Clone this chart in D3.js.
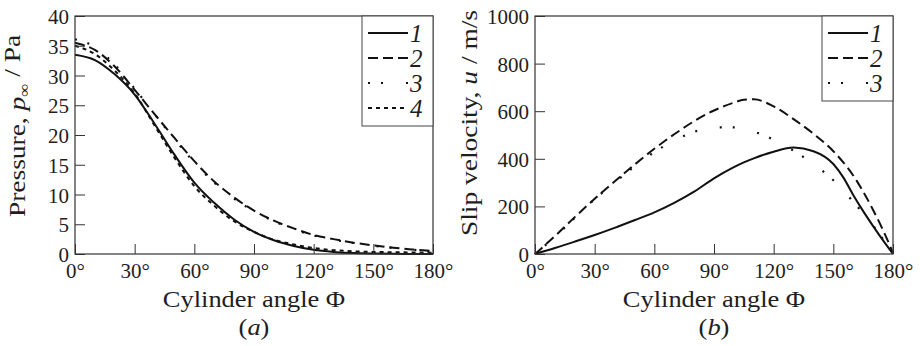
<!DOCTYPE html>
<html><head><meta charset="utf-8">
<script src="https://cdn.jsdelivr.net/npm/d3@7"></script>
<style>
html,body{margin:0;padding:0;background:#fff;}
svg{display:block;}
svg text{fill:#1e1e1e;}
</style></head>
<body>
<svg id="chart" width="920" height="346"></svg>
<script>
// ---------- data ----------
const angleTicks = [0, 30, 60, 90, 120, 150, 180];
const pressureTicks = [0, 5, 10, 15, 20, 25, 30, 35, 40];
const velocityTicks = [0, 200, 400, 600, 800, 1000];

const pAngles = [0,10,20,30,40,50,60,70,80,90,100,110,120,130,140,150,160,170,180];
const pressure1 = [33.5,32.6,30.2,26.8,21.9,16.7,12.0,8.6,5.8,3.7,2.3,1.35,0.7,0.35,0.15,0.07,0.03,0.01,0];
const pressure2 = [35.5,34.3,31.5,27.6,23.5,19.5,15.6,12.2,9.5,7.3,5.6,4.3,3.2,2.5,1.9,1.45,1.05,0.75,0.5];
const pressure3 = [36.1,34.8,31.8,27.8,23.5,19.3,15.4,12.0,9.3,7.2,5.5,4.2,3.1,2.4,1.85,1.4,1.0,0.7,0.45];
const pressure4 = [35.0,33.6,30.8,27.0,21.6,16.2,11.4,8.1,5.5,3.7,2.4,1.6,1.0,0.65,0.45,0.35,0.3,0.25,0.2];

const vAngles = [0,10,20,30,40,50,60,70,80,90,100,105,110,120,130,140,150,155,160,165,170,175,180];
const velocity1 = [0,25,52,80,110,142,175,215,262,318,365,385,402,430,447,432,378,322,248,180,117,57,0];
const velocity2 = [0,75,155,232,305,375,442,503,558,603,636,648,650,620,567,505,432,385,330,262,185,100,5];
const velocity3 = [0,72,152,230,300,368,428,477,513,532,532,524,514,480,434,378,310,265,220,170,120,62,0];

const pressureLabels = ["1","2","3","4"];
const velocityLabels = ["1","2","3"];

// ---------- styles ----------
const dashes = [null, "10 5", "2 11 2 23", "4 4"];
const FONT = "'Liberation Serif', 'DejaVu Serif', serif";

const svg = d3.select("#chart");

function panel(opt){
  const {x0,x1,y0,y1,yDomain,yTicks,series,angles,labels,titleX,titleY,letter,titleParts} = opt;
  const x = d3.scaleLinear().domain([0,180]).range([x0,x1]);
  const y = d3.scaleLinear().domain(yDomain).range([y1,y0]);
  const g = svg.append("g");

  // curves
  const line = d3.line().x((d,i)=>x(angles[i])).y(d=>y(d)).curve(d3.curveMonotoneX);
  series.forEach((s,k)=>{
    g.append("path").attr("d", line(s)).attr("fill","none")
      .attr("stroke","#111").attr("stroke-width", k===2?2.2:2)
      .attr("stroke-dasharray", dashes[k]);
  });

  // axes
  const ax = g.append("g").attr("transform",`translate(0,${y1})`)
    .call(d3.axisBottom(x).tickValues(angleTicks).tickSizeInner(-10).tickSizeOuter(0).tickFormat(d=>d+"°"));
  const ay = g.append("g").attr("transform",`translate(${x0},0)`)
    .call(d3.axisLeft(y).tickValues(yTicks).tickSizeInner(-10).tickSizeOuter(0).tickFormat(d3.format("d")));
  [ax,ay].forEach(a=>{
    a.attr("font-family", FONT);
    a.select(".domain").remove();
    a.selectAll("line").attr("stroke","#333").attr("stroke-width",1);
    a.selectAll("text").style("font-size","21px").style("font-family",FONT).attr("fill","#1a1a1a");
  });
  ax.selectAll("text").attr("y",9).attr("dy","0.71em");
  ay.selectAll("text").attr("x",-6).attr("dy","0.36em");

  // frame
  g.append("rect").attr("x",x0).attr("y",y0).attr("width",x1-x0).attr("height",y1-y0)
    .attr("fill","none").attr("stroke","#333").attr("stroke-width",1.2);

  // legend
  const lw = 71, lh = 25*labels.length+10;
  const lg = g.append("g").attr("transform",`translate(${x1-lw},${y0})`);
  lg.append("rect").attr("width",lw).attr("height",lh).attr("fill","#fff").attr("stroke","#444").attr("stroke-width",1);
  labels.forEach((lab,k)=>{
    const yy = 17 + 25*k;
    lg.append("line").attr("x1",6).attr("x2",46).attr("y1",yy).attr("y2",yy)
      .attr("stroke","#111").attr("stroke-width",k===2?2.2:2).attr("stroke-dasharray",dashes[k]);
    lg.append("text").attr("x",48).attr("y",yy+9)
      .style("font-family",FONT).style("font-size","25px").style("font-style","italic").text(lab);
  });

  // x title
  g.append("text").attr("transform",`translate(${(x0+x1)/2},307) scale(1.15,1)`)
    .attr("text-anchor","middle").style("font-family",FONT).style("font-size","23px").text("Cylinder angle Φ");
  // panel letter
  const lt = g.append("text").attr("transform",`translate(${(x0+x1)/2},335) scale(1.15,1)`)
    .attr("text-anchor","middle").style("font-family",FONT).style("font-size","23px");
  lt.append("tspan").text("(");
  lt.append("tspan").style("font-style","italic").text(letter);
  lt.append("tspan").text(")");

  // y title
  const yt = g.append("text").attr("transform",`translate(${titleX},${titleY}) rotate(-90) scale(1.22,1)`)
    .attr("text-anchor","middle").style("font-family",FONT).style("font-size","22.5px");
  titleParts.forEach(p=>{
    const t = yt.append("tspan").text(p.t);
    if(p.i) t.style("font-style","italic");
    if(p.sub) t.attr("dy","0.25em").style("font-size","15px");
    if(p.after) t.attr("dy","-0.37em");
  });
}

panel({x0:75,x1:433,y0:16,y1:254,yDomain:[0,40],yTicks:pressureTicks,
  series:[pressure1,pressure2,pressure3,pressure4],angles:pAngles,labels:pressureLabels,
  titleX:25,titleY:126,letter:"a",
  titleParts:[{t:"Pressure, "},{t:"p",i:true},{t:"∞",sub:true},{t:" / Pa",after:true}]});

panel({x0:535,x1:893,y0:16,y1:254,yDomain:[0,1000],yTicks:velocityTicks,
  series:[velocity1,velocity2,velocity3],angles:vAngles,labels:velocityLabels,
  titleX:477,titleY:123,letter:"b",
  titleParts:[{t:"Slip velocity, "},{t:"u",i:true},{t:" / m/s"}]});
</script>
</body></html>
